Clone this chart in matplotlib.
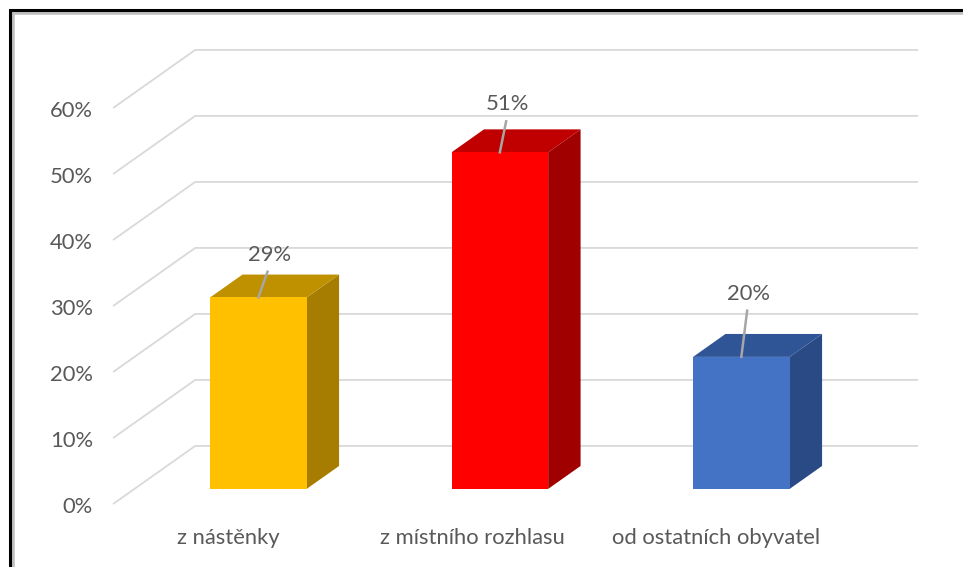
import matplotlib
matplotlib.use('Agg')
import matplotlib.pyplot as plt
from matplotlib.patches import Polygon, Rectangle

# ---------------- DATA ----------------
categories = ['z nástěnky', 'z místního rozhlasu', 'od ostatních obyvatel']
values = [29, 51, 20]
value_labels = ['29%', '51%', '20%']
y_ticks = [0, 10, 20, 30, 40, 50, 60]
y_tick_labels = ['0%', '10%', '20%', '30%', '40%', '50%', '60%']

# ---------------- STYLE ----------------
front_colors = ['#FFC000', '#FF0000', '#4472C4']
top_colors = ['#BF9000', '#C00000', '#2F5597']
side_colors = ['#A67D00', '#A00000', '#2A4A85']
grid_color = '#D9D9D9'
text_color = '#595959'
font = 'Lato'
fs = 15.8

# oblique projection: depth 0 = front plane, depth 1 = back wall
DX = 0.34      # horizontal shift for full depth (category units)
DY = 8.8       # vertical shift for full depth (percent units)
D0, D1 = 0.26, 0.655   # bar depth range
bar_w = 0.40
floor_x0, floor_x1 = -0.513, 2.48

# label offsets (cat units, percent units) relative to bar front-top centre
lab_dx = [0.042, 0.030, 0.028]
lab_dy = [6.5, 7.3, 9.6]


def proj(x, y, d):
    return (x + d * DX, y + d * DY)


fig = plt.figure(figsize=(9.63, 5.67), dpi=100)
ax = fig.add_axes([0, 0, 1, 1])
ax.set_xlim(-237 / 241.5, (963 - 237) / 241.5)
ax.set_ylim(-63 / 6.6, 504 / 6.6)
ax.axis('off')

# gridlines: side wall diagonal + back wall horizontal
for t in y_ticks:
    p0 = proj(floor_x0, t, 0)
    p1 = proj(floor_x0, t, 1)
    p2 = proj(floor_x1, t, 1)
    ax.plot([p0[0], p1[0], p2[0]], [p0[1], p1[1], p2[1]],
            color=grid_color, lw=1.3, solid_capstyle='butt', zorder=1)

for t, lab in zip(y_ticks, y_tick_labels):
    ax.text(floor_x0 - 0.083, t - 0.4, lab, ha='right', va='center',
            fontsize=fs, color=text_color, family=font)

# bars
for i, v in enumerate(values):
    xl, xr = i - bar_w / 2, i + bar_w / 2
    front = [proj(xl, 0, D0), proj(xr, 0, D0), proj(xr, v, D0), proj(xl, v, D0)]
    top = [proj(xl, v, D0), proj(xr, v, D0), proj(xr, v, D1), proj(xl, v, D1)]
    side = [proj(xr, 0, D0), proj(xr, 0, D1), proj(xr, v, D1), proj(xr, v, D0)]
    ax.add_patch(Polygon(side, closed=True, fc=side_colors[i], ec='none', zorder=3))
    ax.add_patch(Polygon(top, closed=True, fc=top_colors[i], ec='none', zorder=3))
    ax.add_patch(Polygon(front, closed=True, fc=front_colors[i], ec='none', zorder=4))

    # data label with leader line
    sx, sy = proj(i, v, D0)
    lx, ly = sx + lab_dx[i], sy + lab_dy[i]
    ax.plot([sx, lx - 0.004], [sy, ly - 2.6], color='#A6A6A6', lw=1.8, zorder=5)
    ax.text(lx + 0.003, ly, value_labels[i], ha='center', va='center',
            fontsize=fs, color=text_color, family=font, zorder=6)

    ax.text(i - 0.035 + 0.01 * i, -5.1, categories[i], ha='center', va='center',
            fontsize=fs, color=text_color, family=font)

# chart frame with slight shadow
fig.patches.append(Rectangle((12 / 963, -0.1), 1.2, 1 - 12 / 567 + 0.1,
                             transform=fig.transFigure, fill=False,
                             ec='#BFBFBF', lw=4, zorder=0))
fig.patches.append(Rectangle((10 / 963, -0.1), 1.2, 1 - 10 / 567 + 0.1,
                             transform=fig.transFigure, fill=False,
                             ec='black', lw=2.2, zorder=1))

fig.savefig('out.png', dpi=100, facecolor='white')
